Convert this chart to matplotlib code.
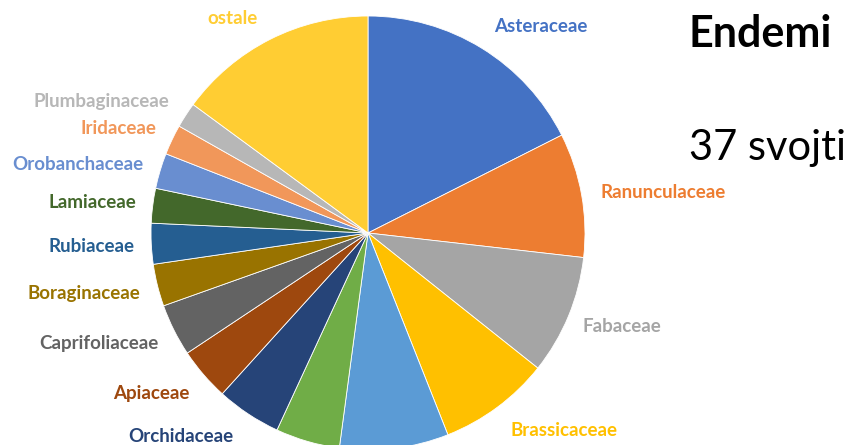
import matplotlib.pyplot as plt

families = ['Asteraceae', 'Ranunculaceae', 'Fabaceae', 'Brassicaceae', '', '',
            'Orchidaceae', 'Apiaceae', 'Caprifoliaceae', 'Boraginaceae', 'Rubiaceae',
            'Lamiaceae', 'Orobanchaceae', 'Iridaceae', 'Plumbaginaceae', 'ostale']
sizes = [63.2, 33.3, 32.0, 29.9, 29.2, 17.2, 17.4, 14.2, 14.0, 11.3, 10.9,
         9.3, 9.5, 8.1, 6.8, 53.7]
colors = ['#4472C4', '#ED7D31', '#A5A5A5', '#FFC000', '#5B9BD5', '#70AD47',
          '#264478', '#9E480E', '#636363', '#997300', '#255E91', '#43682B',
          '#698ED0', '#F1975A', '#B7B7B7', '#FFCD33']

W, H = 852, 445

# label anchor (x, y from top) and alignment, in pixels
label_pos = {
    'Asteraceae': (541, 27, 'center'),
    'Ranunculaceae': (600, 193, 'left'),
    'Fabaceae': (583, 327, 'left'),
    'Brassicaceae': (510, 430, 'left'),
    'Orchidaceae': (233, 437, 'right'),
    'Apiaceae': (189, 393, 'right'),
    'Caprifoliaceae': (158, 343, 'right'),
    'Boraginaceae': (140, 293, 'right'),
    'Rubiaceae': (134, 246, 'right'),
    'Lamiaceae': (136, 202, 'right'),
    'Orobanchaceae': (143, 165, 'right'),
    'Iridaceae': (156, 129, 'right'),
    'Plumbaginaceae': (169, 102, 'right'),
    'ostale': (232, 18, 'center'),
}

plt.rcParams['font.family'] = ['Lato', 'DejaVu Sans']

fig = plt.figure(figsize=(W / 100, H / 100), dpi=100)
ax = fig.add_axes([0, 0, 1, 1])

ax.pie(sizes, colors=colors, startangle=90, counterclock=False,
       radius=217, center=(368, H - 233),
       wedgeprops=dict(edgecolor='white', linewidth=0.6))
ax.set_xlim(0, W)
ax.set_ylim(0, H)
ax.set_aspect('equal')
ax.axis('off')

for name, col in zip(families, colors):
    if name not in label_pos:
        continue
    x, y, ha = label_pos[name]
    ax.text(x, H - y, name, color=col, fontsize=13.5, fontweight='bold',
            ha=ha, va='center')

ax.text(689, H - 34, 'Endemi', fontsize=31, fontweight='bold', color='black',
        ha='left', va='center')
ax.text(689, H - 148, '37 svojti', fontsize=30, color='black',
        ha='left', va='center')

fig.savefig('out.png', dpi=100)
